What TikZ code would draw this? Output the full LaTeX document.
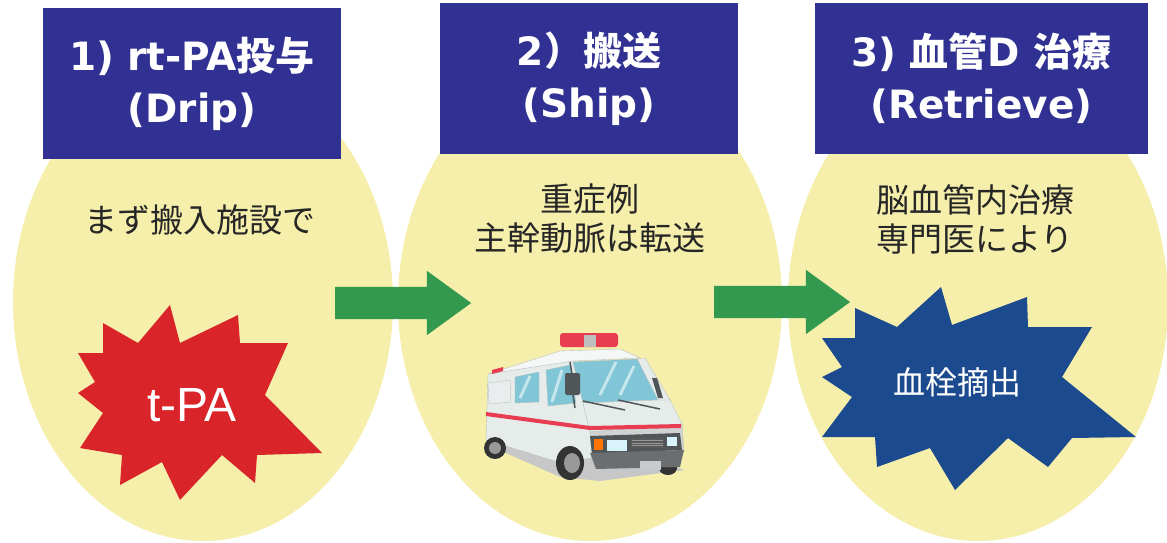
\documentclass[tikz,border=0pt]{standalone}
\usepackage{fontspec}
\usepackage{tikz}
\usetikzlibrary{shapes.geometric,shapes.arrows}

\newfontfamily\jpfont{Noto Sans CJK JP}
\newfontfamily\latfont{DejaVu Sans}
\newfontfamily\tpafont{Liberation Sans}
\newcommand{\EN}[1]{{\latfont\bfseries #1}}
\newcommand{\JP}[1]{{\jpfont\bfseries #1}}

\definecolor{eggyellow}{RGB}{245,239,171}
\definecolor{titleblue}{RGB}{48,49,146}
\definecolor{arrowgreen}{RGB}{51,153,78}
\definecolor{burstred}{RGB}{217,37,42}
\definecolor{burstblue}{RGB}{27,74,142}
\definecolor{vanwhite}{RGB}{230,236,234}
\definecolor{vanline}{RGB}{185,194,194}
\definecolor{vanglass}{RGB}{128,198,214}
\definecolor{vandark}{RGB}{80,85,88}
\definecolor{vanred}{RGB}{232,60,80}

\tikzset{
  egg/.style={ellipse, fill=eggyellow, inner sep=0pt, minimum height=478pt},
  titlebox/.style={rectangle, fill=titleblue, text=white, align=center, inner sep=0pt,
    minimum height=151pt, font=\fontsize{39}{52}\selectfont},
  note/.style={align=center, text=black!85, font=\jpfont\fontsize{33}{39}\selectfont},
  go/.style={single arrow, fill=arrowgreen, inner xsep=0pt, inner ysep=16pt,
    single arrow head extend=16pt, single arrow tip angle=72, minimum height=136pt},
}

\begin{document}
\begin{tikzpicture}[x=1pt,y=-1pt]
\useasboundingbox (0,0) rectangle (1167,542);

% the three stages
\node[egg, minimum width=380pt] (e1) at (203,302) {};
\node[egg, minimum width=384pt] (e2) at (590,302) {};
\node[egg, minimum width=380pt] (e3) at (978,302) {};

\node[titlebox, minimum width=298pt] (t1) at (192,83.5)
  {\EN{1) rt-PA}\JP{投与}\\\EN{(Drip)}};
\node[titlebox, minimum width=298pt] (t2) at (589,78.5)
  {\EN{2}\JP{）搬送}\\\EN{(Ship)}};
\node[titlebox, minimum width=333pt] (t3) at (981.5,78.5)
  {\EN{3) }\JP{血管}\EN{D }\JP{治療}\\\EN{(Retrieve)}};

\node[note] (n1) at (200,220) {まず搬入施設で};
\node[note] (n2) at (590,219) {重症例\\主幹動脈は転送};
\node[note] (n3) at (975,219) {脳血管内治療\\専門医により};

% bursts
\fill[burstred] (103,323) -- (138,343) -- (170,305) -- (180,343) -- (238,315)
  -- (240,343) -- (288,343) -- (265,395) -- (322,453) -- (257,455) -- (255,483)
  -- (222,455) -- (180,500) -- (162,462) -- (120,485) -- (122,455) -- (80,448)
  -- (103,413) -- (78,393) -- (95,382) -- (78,353) -- (103,353) -- cycle;
\node[text=white, font=\tpafont\fontsize{48}{48}\selectfont] (tpa) at (192,405) {t-PA};

\fill[burstblue] (855,308) -- (897,327) -- (941,287) -- (952,325) -- (1027,297)
  -- (1028,327) -- (1092,327) -- (1062,377) -- (1136,437) -- (1072,438) -- (1048,467)
  -- (1008,438) -- (955,490) -- (930,448) -- (877,467) -- (875,437) -- (822,437)
  -- (852,397) -- (822,377) -- (842,367) -- (822,338) -- (855,338) -- cycle;
\node[text=white, font=\jpfont\fontsize{32}{32}\selectfont] (clot) at (957,382) {血栓摘出};

% ambulance
\fill[black!22] (490,446) -- (560,477) -- (600,481) -- (684,470) -- (640,452) -- (530,436) -- cycle;
\fill[black!80] (668,468) ellipse[x radius=9pt, y radius=7pt];
\filldraw[fill=vanwhite, draw=vanline] (488,374) -- (573,360) -- (583,402) -- (590,432)
  -- (593,458) -- (558,462) -- (486,440) -- cycle;
\filldraw[fill=white!60!vanwhite, draw=vanline] (488,374) -- (560,351) -- (620,349)
  -- (640,358) -- (573,361) -- cycle;
\filldraw[fill=vanwhite, draw=vanline] (637,359) -- (645,358) -- (670,400) -- (658,401) -- cycle;
\filldraw[fill=vanglass, draw=vanline] (573,362) -- (637,359) -- (658,400) -- (583,403) -- cycle;
\filldraw[fill=vanwhite, draw=vanline] (583,403) -- (658,400) -- (670,400) -- (682,424) -- (590,432) -- cycle;
\filldraw[fill=vanwhite!90!black, draw=vanline] (590,432) -- (682,424) -- (684,452) -- (592,458) -- cycle;
\fill[vandark] (590,436) -- (680,433) -- (682,450) -- (592,454) -- cycle;
\fill[orange!90!red] (594,439) rectangle (603,450);
\fill[cyan!15] (607,440) rectangle (627,451);
\fill[black!65] (631,438) rectangle (664,448);
\foreach \gy in {440.5,443,445.5}
  \draw[black!40, line width=0.8pt] (632,\gy) -- (663,\gy);
\fill[cyan!15] (667,437) rectangle (677,446);
\fill[vandark!85] (590,453) -- (684,450) -- (680,467) -- (596,469) -- cycle;
\fill[cyan!10!black!25] (640,461) rectangle (661,470);
\draw[vanred, line width=4pt] (486,414) -- (590,428) -- (681,426);
\filldraw[fill=white!70!vanline, draw=vanline] (488,383) -- (510,380) -- (511,402) -- (489,404) -- cycle;
\filldraw[fill=vanglass, draw=vanline] (515,377) -- (539,372) -- (539,402) -- (515,403) -- cycle;
\filldraw[fill=vanglass, draw=vanline] (546,370) -- (570,365) -- (576,403) -- (548,406) -- cycle;
\draw[white!55!vanglass, line width=3pt] (520,398) -- (530,376) (552,402) -- (562,370)
  (600,395) -- (616,362) (620,395) -- (634,366);
\fill[vanred, rounded corners=3pt] (560,333) rectangle (618,347);
\fill[black!25] (584,335) rectangle (596,347);
\fill[vanred] (492,370) -- (503,367) -- (503,371) -- (492,374) -- cycle;
\fill[vandark] (652,378) -- (657,378) -- (663,398) -- (658,398) -- cycle;
\draw[vandark, line width=1.5pt] (570,362) -- (572,374) (573,395) -- (575,408);
\fill[vandark, rounded corners=2pt] (565,373) rectangle (580,395);
\draw[vandark, line width=1.5pt] (583,401) -- (625,410) (618,400) -- (660,409);
\fill[black!80] (495,448) circle[radius=11pt];
\fill[black!40] (495,448) circle[radius=6pt];
\fill[black!80] (570,463) ellipse[x radius=14pt, y radius=17pt];
\fill[black!40] (572,463) ellipse[x radius=8pt, y radius=10pt];

% arrows between stages
\node[go] (go1) at (392,303) {};
\node[go] (go2) at (771,302) {};
\end{tikzpicture}
\end{document}
